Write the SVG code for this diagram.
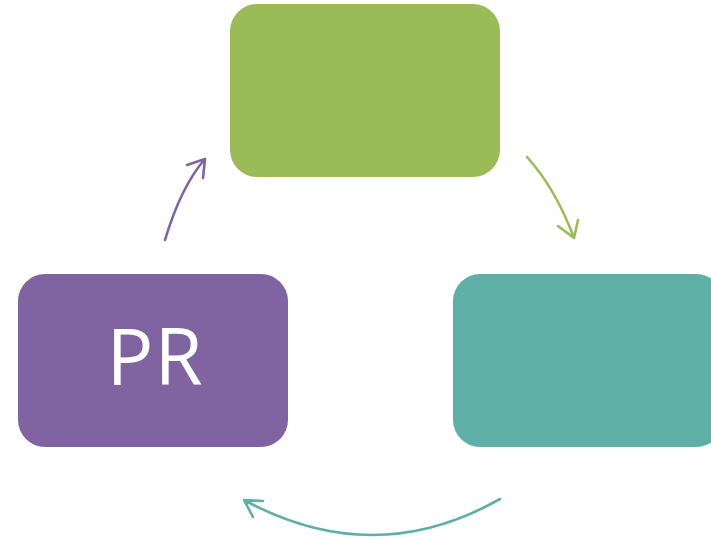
<svg xmlns="http://www.w3.org/2000/svg" width="711" height="540" viewBox="0 0 711 540">
<style>
.arr{fill:none;stroke-width:2.6;stroke-linecap:round;stroke-linejoin:round}
.lbl{font-family:"Open Sans","Liberation Sans",sans-serif;font-size:78px;fill:#ffffff;text-anchor:middle}
</style>
<rect width="711" height="540" fill="#ffffff"/>
<g id="node-top"><rect x="230" y="4" width="270" height="173" rx="27" fill="#9BBB59"/></g>
<g id="node-right"><rect x="453" y="274" width="270" height="173" rx="27" fill="#5EAFA6"/></g>
<g id="node-left"><rect x="18" y="274" width="270" height="173" rx="27" fill="#8064A2"/><text class="lbl" x="155" y="385" letter-spacing="1">PR</text></g>
<g id="connectors">
<path class="arr" stroke="#8064A2" d="M165,240 Q181,186.5 205,159 M187,165 L205,159 L203,178"/>
<path class="arr" stroke="#9BBB59" d="M527,157 Q555.5,188.5 574,238 M558,226 L574,238 L578,220"/>
<path class="arr" stroke="#5EAFA6" d="M500,499 Q374,570.5 244,500 M263,501 L244,500 L253,517"/>
</g>
</svg>
